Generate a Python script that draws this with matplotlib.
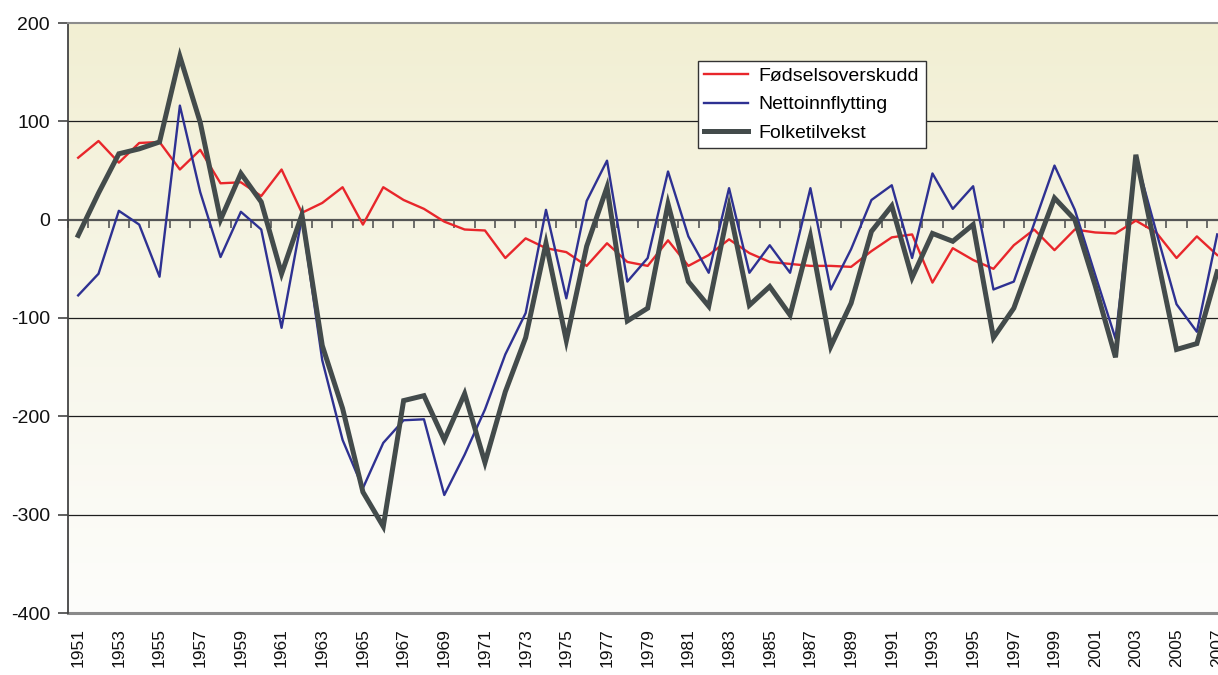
import numpy as np
import matplotlib
matplotlib.use("Agg")
import matplotlib.pyplot as plt
from matplotlib.colors import LinearSegmentedColormap
from matplotlib import font_manager

plt.rcParams['font.family'] = ['Liberation Sans', 'DejaVu Sans']
plt.rcParams['axes.unicode_minus'] = False

years = list(range(1951, 2008))

fodselsoverskudd = [63, 80, 58, 78, 79, 51, 71, 37, 38, 24,
                    51, 7, 17, 33, -5, 33, 20, 11, -2, -10,
                    -11, -39, -19, -29, -33, -47, -24, -43, -47, -21,
                    -47, -36, -20, -34, -43, -45, -47, -47, -48, -32,
                    -18, -15, -64, -29, -41, -50, -26, -10, -31, -10,
                    -13, -14, -1, -13, -39, -17, -36]

nettoinnflytting = [-77, -55, 9, -5, -58, 116, 28, -38, 8, -10,
                    -110, 2, -143, -224, -273, -227, -204, -203, -280, -239,
                    -193, -137, -95, 10, -80, 19, 60, -63, -39, 49,
                    -17, -54, 32, -54, -26, -54, 32, -71, -30, 20,
                    35, -39, 47, 11, 34, -71, -63, -4, 55, 10,
                    -56, -121, 63, -12, -86, -114, -15]

folketilvekst = [-16, 27, 67, 72, 79, 166, 99, 0, 47, 18,
                 -55, 5, -128, -192, -277, -312, -184, -179, -224, -177,
                 -247, -175, -120, -24, -123, -27, 33, -103, -90, 16,
                 -63, -88, 13, -87, -68, -97, -17, -129, -85, -12,
                 14, -59, -14, -22, -5, -120, -90, -33, 22, 0,
                 -67, -140, 66, -33, -132, -126, -53]

labels = ['Fødselsoverskudd', 'Nettoinnflytting', 'Folketilvekst']
yticks = [-400, -300, -200, -100, 0, 100, 200]
xlabel_years = years[::2]

installed = {f.name for f in font_manager.fontManager.ttflist}
narrow = 'Liberation Sans Narrow' if 'Liberation Sans Narrow' in installed else None

W, H = 1218, 675
fig = plt.figure(figsize=(W / 100, H / 100), dpi=100)
fig.patch.set_facecolor('white')

left, right, top, bottom = 68, 68 + 57 * 20.34, 23, 613
ax = fig.add_axes([left / W, 1 - bottom / H, (right - left) / W, (bottom - top) / H])

x0, x1 = years[0] - 0.5, years[-1] + 0.5
ax.set_xlim(x0, x1)
ax.set_ylim(yticks[0], yticks[-1])

# gradient background
cmap = LinearSegmentedColormap.from_list('bg', ['#fdfdfb', '#f7f6e9', '#f2efd3'])
grad = np.linspace(0, 1, 256).reshape(-1, 1)
ax.imshow(grad, extent=[x0, x1, yticks[0], yticks[-1]], origin='lower',
          aspect='auto', cmap=cmap, zorder=0, interpolation='bicubic')
ax.set_facecolor('white')

# grid
ax.set_axisbelow(True)
ax.set_yticks(yticks)
ax.set_yticklabels([str(v) for v in yticks])
ax.yaxis.grid(True, color='#1e1e1e', lw=0.9)
glines = ax.get_ygridlines()
glines[0].set_visible(False)
glines[-1].set_visible(False)
glines[4].set_visible(False)

# series
red, blue, gray = '#e8262b', '#2e3192', '#434b4b'
ax.plot(years, fodselsoverskudd, color=red, lw=1.7, label=labels[0], zorder=3)
ax.plot(years, nettoinnflytting, color=blue, lw=1.7, label=labels[1], zorder=4)
ax.plot(years, folketilvekst, color=gray, lw=3.6, label=labels[2], zorder=5,
        solid_joinstyle='miter')

# spines
ax.spines['right'].set_visible(False)
ax.spines['top'].set_color('#8c8c8c')
ax.spines['top'].set_linewidth(1.5)
ax.spines['left'].set_color('#444444')
ax.spines['left'].set_linewidth(1.3)
ax.spines['bottom'].set_position(('data', 0))
ax.spines['bottom'].set_color('#555555')
ax.spines['bottom'].set_linewidth(1.6)
ax.spines['bottom'].set_zorder(2)

ax.set_xticks(np.arange(x0, x1 + 0.5, 1))
ax.tick_params(axis='x', direction='out', length=6, width=1.2, color='#555555',
               labelbottom=False)
ax.tick_params(axis='y', direction='out', length=7, width=1.2, color='#444444',
               labelsize=14, pad=6, labelcolor='#111111')

sec = ax.secondary_xaxis(0.0)
sec.set_xticks(xlabel_years)
xfam = [narrow, 'Liberation Sans', 'DejaVu Sans'] if narrow else ['Liberation Sans', 'DejaVu Sans']
xsize = 15 if narrow else 12.5
sec.set_xticklabels([str(y) for y in xlabel_years], rotation=90, fontsize=xsize,
                    color='#111111', family=xfam)
sec.tick_params(length=0, pad=11)
sec.spines['bottom'].set_color('#8a8a8a')
sec.spines['bottom'].set_linewidth(2.2)

leg = ax.legend(loc='upper left', bbox_to_anchor=(698 / W, 1 - 61 / H),
                bbox_transform=fig.transFigure, borderaxespad=0,
                fontsize=14, frameon=True, fancybox=False, framealpha=1,
                edgecolor='#333333', handlelength=2.25, handletextpad=0.55,
                borderpad=0.33, labelspacing=0.55)
leg.get_frame().set_linewidth(1.0)
leg.set_zorder(10)

fig.savefig('out.png', dpi=100)
